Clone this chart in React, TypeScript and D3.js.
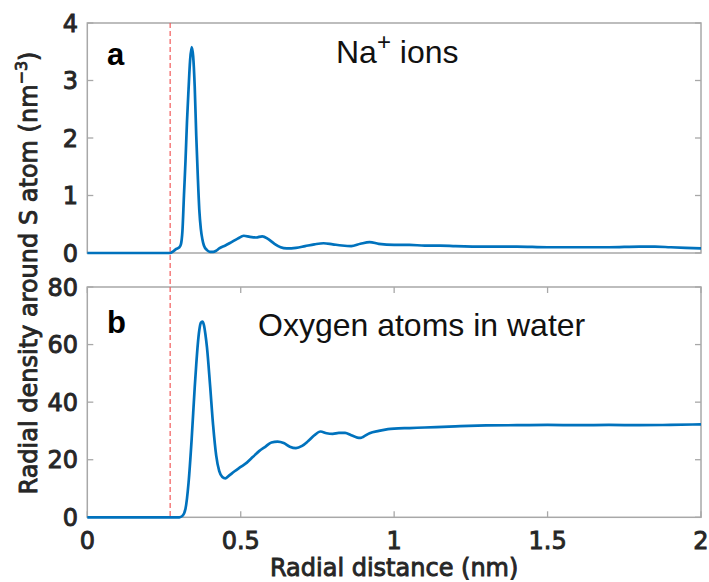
import React from "react";
import * as d3 from "d3";

// Na+ radial density (nm^-3)
const naX = [0, 0.27, 0.28, 0.29, 0.3, 0.305, 0.31, 0.315, 0.32, 0.325, 0.33, 0.335, 0.34, 0.345, 0.35, 0.355, 0.36, 0.365, 0.37, 0.375, 0.38, 0.39, 0.4, 0.41, 0.42, 0.43, 0.45, 0.47, 0.49, 0.51, 0.53, 0.55, 0.57, 0.59, 0.61, 0.63, 0.65, 0.68, 0.71, 0.74, 0.77, 0.8, 0.83, 0.86, 0.89, 0.92, 0.95, 1.0, 1.05, 1.1, 1.15, 1.2, 1.3, 1.4, 1.5, 1.6, 1.7, 1.8, 1.85, 1.9, 1.95, 2.0];
const naY = [0, 0, 0.03, 0.07, 0.1, 0.15, 0.38, 1.0, 1.6, 2.3, 2.85, 3.35, 3.58, 3.42, 2.9, 2.05, 1.35, 0.75, 0.42, 0.24, 0.13, 0.05, 0.02, 0.02, 0.04, 0.08, 0.13, 0.19, 0.25, 0.3, 0.28, 0.27, 0.29, 0.24, 0.16, 0.1, 0.08, 0.09, 0.12, 0.15, 0.17, 0.15, 0.13, 0.12, 0.16, 0.19, 0.16, 0.14, 0.14, 0.13, 0.13, 0.12, 0.11, 0.11, 0.1, 0.1, 0.1, 0.11, 0.11, 0.1, 0.09, 0.08];

// Oxygen (water) radial density (nm^-3)
const oxX = [0, 0.3, 0.31, 0.32, 0.33, 0.34, 0.35, 0.355, 0.36, 0.365, 0.37, 0.375, 0.38, 0.385, 0.39, 0.4, 0.41, 0.42, 0.43, 0.44, 0.45, 0.46, 0.48, 0.5, 0.52, 0.54, 0.56, 0.58, 0.6, 0.62, 0.64, 0.66, 0.68, 0.7, 0.72, 0.74, 0.76, 0.78, 0.8, 0.82, 0.84, 0.86, 0.88, 0.89, 0.9, 0.92, 0.95, 0.98, 1.0, 1.05, 1.1, 1.2, 1.3, 1.4, 1.5, 1.6, 1.7, 1.8, 1.9, 2.0];
const oxY = [0, 0, 0.5, 3, 12, 27, 45, 53, 60, 65, 67.6, 68, 66.8, 63.5, 59, 46, 32, 21.5, 16, 14, 13.5, 14.3, 16, 17.5, 19, 21, 23, 24.5, 26, 26.3, 25.8, 24.5, 24, 24.8, 26.5, 28.5, 29.8, 29.2, 29, 29.3, 29.3, 28.5, 27.7, 27.6, 28, 29.2, 30, 30.6, 30.8, 31, 31.2, 31.6, 31.9, 32, 32.1, 32, 32.1, 32, 32.1, 32.3];

const xTicks = [0, 0.5, 1, 1.5, 2];
const xTickLabels = ["0", "0.5", "1", "1.5", "2"];
const naTicks = [0, 1, 2, 3, 4];
const oxTicks = [0, 20, 40, 60, 80];
const cutoff = 0.27;

const W = 709;
const H = 582;
const L = 87.3;
const R = 701;
const topA = 23;
const botA = 253;
const topB = 287;
const botB = 517.3;

const axisColor = "#a8a8a8";
const textColor = "#262626";
const lineColor = "#0072BD";
const tickFont = "DejaVu Sans";
const tickLen = 6;
const fs = 24;

const textStyle = {
  fontFamily: tickFont,
  fontSize: fs,
  fill: textColor,
  stroke: textColor,
  strokeWidth: 0.9,
};

export default function App() {
  const x = d3.scaleLinear().domain([0, 2]).range([L, R]);
  const yA = d3.scaleLinear().domain([0, 4]).range([botA, topA]);
  const yB = d3.scaleLinear().domain([0, 80]).range([botB, topB]);

  const lineA = d3
    .line<number>()
    .x((_, i) => x(naX[i]))
    .y((d) => yA(d))
    .curve(d3.curveMonotoneX);
  const lineB = d3
    .line<number>()
    .x((_, i) => x(oxX[i]))
    .y((d) => yB(d))
    .curve(d3.curveMonotoneX);

  const yTicks = (
    scale: d3.ScaleLinear<number, number>,
    ticks: number[],
    key: string
  ) =>
    ticks.map((t) => (
      <g key={key + t}>
        <line x1={L} x2={L + tickLen} y1={scale(t)} y2={scale(t)} stroke={axisColor} strokeWidth={1.3} />
        <line x1={R} x2={R - tickLen} y1={scale(t)} y2={scale(t)} stroke={axisColor} strokeWidth={1.3} />
        <text x={78} y={scale(t)} dy="0.36em" textAnchor="end" style={textStyle}>
          {t}
        </text>
      </g>
    ));

  return (
    <svg
      width={W}
      height={H}
      style={{ position: "absolute", left: 0, top: 0, background: "#fff" }}
    >
      <rect x={0} y={0} width={W} height={H} fill="#fff" />
      {/* panel a */}
      <rect x={L} y={topA} width={R - L} height={botA - topA} fill="none" stroke={axisColor} strokeWidth={1.5} />
      {yTicks(yA, naTicks, "a")}
      {/* panel b */}
      <rect x={L} y={topB} width={R - L} height={botB - topB} fill="none" stroke={axisColor} strokeWidth={1.5} />
      {yTicks(yB, oxTicks, "b")}
      {xTicks.map((t, i) => (
        <g key={"xt" + t}>
          <line x1={x(t)} x2={x(t)} y1={botB} y2={botB - tickLen} stroke={axisColor} strokeWidth={1.3} />
          <line x1={x(t)} x2={x(t)} y1={topB} y2={topB + tickLen} stroke={axisColor} strokeWidth={1.3} />
          <text x={x(t)} y={549} textAnchor="middle" style={textStyle}>
            {xTickLabels[i]}
          </text>
        </g>
      ))}

      {/* cutoff dashed line */}
      <line
        x1={x(cutoff)}
        x2={x(cutoff)}
        y1={topA}
        y2={botB}
        stroke="#f25a5a"
        strokeWidth={1.2}
        strokeDasharray="5,3"
      />

      <path d={lineA(naY) || ""} fill="none" stroke={lineColor} strokeWidth={2.7} strokeLinejoin="round" />
      <path d={lineB(oxY) || ""} fill="none" stroke={lineColor} strokeWidth={2.7} strokeLinejoin="round" />

      {/* panel labels */}
      <text x={107} y={65} fontFamily="Liberation Sans" fontWeight="bold" fontSize={31} fill="#000">
        a
      </text>
      <text x={107} y={333} fontFamily="Liberation Sans" fontWeight="bold" fontSize={31} fill="#000">
        b
      </text>
      <text x={336} y={63} fontFamily="Liberation Sans" fontSize={32} fill="#111">
        Na
        <tspan fontSize={24} dy={-13}>+</tspan>
        <tspan dy={13}> ions</tspan>
      </text>
      <text x={258} y={336} fontFamily="Liberation Sans" fontSize={32} fill="#111">
        Oxygen atoms in water
      </text>

      {/* axis labels */}
      <text x={(L + R) / 2} y={576} textAnchor="middle" style={textStyle}>
        Radial distance (nm)
      </text>
      <text
        transform={`translate(37, 273) rotate(-90)`}
        textAnchor="middle"
        style={textStyle}
      >
        Radial density around S atom (nm
        <tspan fontSize={16} dy={-10}>−3</tspan>
        <tspan dy={10}>)</tspan>
      </text>
    </svg>
  );
}
